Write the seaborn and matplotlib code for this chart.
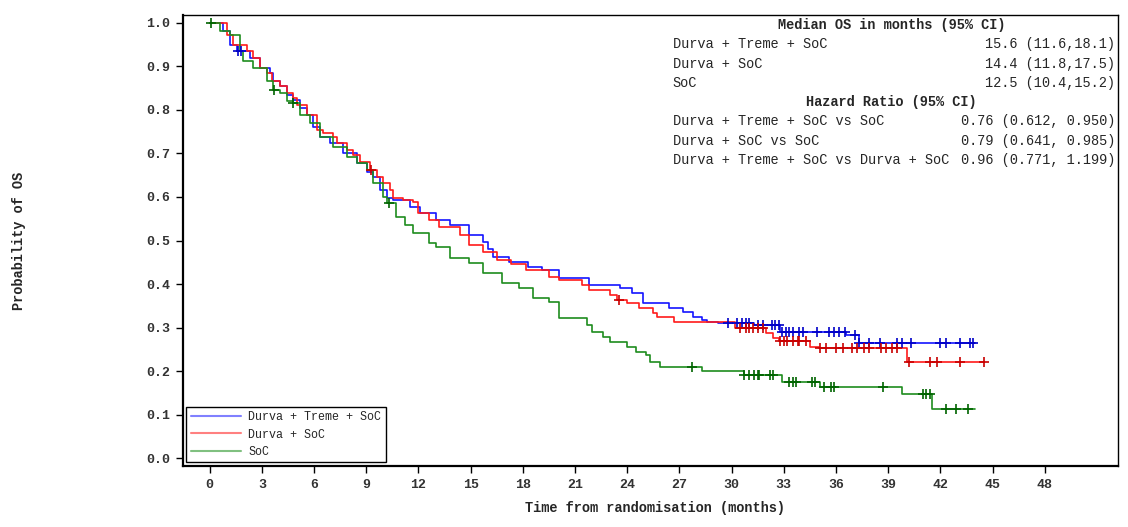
import numpy as np
import pandas as pd
import seaborn as sns
import matplotlib.pyplot as plt
from matplotlib.lines import Line2D

# KM step points (months, survival probability)
dts_time = [0, 0.75, 1.15, 1.55, 2.3, 2.87, 3.45, 3.62, 4.02, 4.43, 4.77, 5.17, 5.57, 5.92, 6.32,
            6.9, 7.64, 8.45, 9.02, 9.37, 9.77, 10.17, 10.52, 11.5, 12.1, 13.0, 13.8, 14.9, 15.7,
            16.0, 16.3, 17.2, 18.3, 19.1, 20.1, 21.8, 23.6, 24.3, 24.9, 26.4, 27.2, 27.8, 28.3,
            28.6, 29.2, 31.3, 32.8, 36.6, 37.3, 44.0]
dts_surv = [1.0, 0.982, 0.95, 0.936, 0.92, 0.897, 0.885, 0.867, 0.855, 0.834, 0.823, 0.805,
            0.789, 0.761, 0.738, 0.724, 0.701, 0.678, 0.657, 0.646, 0.616, 0.598, 0.593, 0.577,
            0.563, 0.548, 0.536, 0.513, 0.497, 0.48, 0.462, 0.45, 0.44, 0.432, 0.414, 0.398,
            0.391, 0.379, 0.356, 0.345, 0.336, 0.324, 0.317, 0.313, 0.31, 0.305, 0.29, 0.283,
            0.264, 0.264]
dts_cens = [1.6, 1.8, 29.8, 30.3, 30.6, 30.8, 31.0, 31.5, 31.8, 32.3, 32.5, 32.7, 32.9, 33.1, 33.3,
            33.5, 33.9, 34.1, 34.9, 35.6, 35.9, 36.2, 36.5, 37.1, 37.3, 37.9, 38.5, 39.5, 39.8,
            40.3, 42.0, 42.3, 43.1, 43.7, 43.9]

ds_time = [0, 0.98, 1.32, 2.13, 2.47, 2.87, 3.28, 3.56, 4.02, 4.43, 4.77, 5.0, 5.57, 6.15, 6.49,
           7.07, 7.3, 7.87, 8.22, 8.62, 9.2, 9.6, 9.94, 10.34, 10.52, 11.1, 11.7, 12.0, 12.6,
           13.2, 14.4, 14.9, 15.7, 16.5, 17.3, 18.2, 19.5, 20.1, 21.4, 21.8, 23.0, 23.4, 24.0,
           24.7, 25.5, 25.7, 26.7, 30.2, 32.0, 32.4, 32.7, 34.5, 35.0, 40.1, 44.5]
ds_surv = [1.0, 0.972, 0.95, 0.936, 0.92, 0.897, 0.885, 0.867, 0.855, 0.839, 0.828, 0.812,
           0.789, 0.754, 0.747, 0.738, 0.724, 0.708, 0.697, 0.68, 0.662, 0.646, 0.632, 0.616,
           0.598, 0.593, 0.589, 0.563, 0.547, 0.53, 0.513, 0.49, 0.474, 0.455, 0.445, 0.432,
           0.416, 0.409, 0.398, 0.386, 0.375, 0.363, 0.356, 0.345, 0.333, 0.324, 0.313, 0.30,
           0.287, 0.276, 0.27, 0.256, 0.253, 0.221, 0.221]
ds_cens = [9.3, 23.5, 30.5, 30.8, 31.0, 31.2, 31.5, 31.8, 32.8, 33.0, 33.2, 33.5, 33.8, 33.9,
           34.3, 35.1, 35.4, 36.0, 36.4, 36.9, 37.2, 37.6, 37.9, 38.6, 38.9, 39.2, 39.5, 40.2,
           41.4, 41.8, 43.1, 44.5]

soc_time = [0, 0.57, 1.15, 1.72, 1.9, 2.47, 3.28, 3.62, 4.02, 4.43, 4.77, 5.17, 5.75, 6.32, 7.07,
            7.87, 8.45, 9.02, 9.37, 9.94, 10.17, 10.7, 11.2, 11.7, 12.6, 13.0, 13.8, 14.9, 15.7,
            16.8, 17.8, 18.6, 19.5, 20.1, 21.7, 22.0, 22.6, 23.0, 24.0, 24.5, 25.1, 25.3, 25.9,
            28.3, 30.7, 32.9, 35.1, 39.8, 41.5, 44.0]
soc_surv = [1.0, 0.982, 0.972, 0.936, 0.913, 0.897, 0.867, 0.846, 0.839, 0.821, 0.816, 0.789,
            0.77, 0.738, 0.715, 0.692, 0.678, 0.662, 0.632, 0.6, 0.586, 0.554, 0.535, 0.517,
            0.494, 0.485, 0.46, 0.448, 0.425, 0.402, 0.39, 0.368, 0.359, 0.322, 0.306, 0.29,
            0.278, 0.267, 0.255, 0.244, 0.237, 0.221, 0.209, 0.2, 0.19, 0.175, 0.163, 0.147,
            0.113, 0.113]
soc_cens = [0.1, 3.7, 4.8, 10.3, 27.7, 30.7, 31.0, 31.3, 31.5, 31.6, 32.2, 32.4, 33.3, 33.5,
            33.7, 34.6, 34.8, 35.3, 35.7, 35.9, 38.7, 41.0, 41.2, 41.4, 42.3, 42.9, 43.6]

arms = ["Durva + Treme + SoC", "Durva + SoC", "SoC"]
line_colors = ["#1414ff", "#ff1a1a", "#1e8c1e"]
mark_colors = ["#0000c8", "#c80000", "#006400"]
legend_colors = ["#8080ff", "#ff8080", "#80c080"]

median_rows = [("Durva + Treme + SoC", "15.6 (11.6,18.1)"),
               ("Durva + SoC", "14.4 (11.8,17.5)"),
               ("SoC", "12.5 (10.4,15.2)")]
hr_rows = [("Durva + Treme + SoC vs SoC", "0.76 (0.612, 0.950)"),
           ("Durva + SoC vs SoC", "0.79 (0.641, 0.985)"),
           ("Durva + Treme + SoC vs Durva + SoC", "0.96 (0.771, 1.199)")]

sns.set_style("ticks")
plt.rcParams['font.family'] = ['Liberation Mono', 'DejaVu Sans Mono']

fig = plt.figure(figsize=(11.28, 5.27), dpi=100)
ax = fig.add_axes([0.162, 0.1157, 0.829, 0.8558])

curves = [(dts_time, dts_surv, dts_cens), (ds_time, ds_surv, ds_cens), (soc_time, soc_surv, soc_cens)]
for (t, s, c), name, lc, mc in zip(curves, arms, line_colors, mark_colors):
    df = pd.DataFrame({"time": t, "surv": s})
    sns.lineplot(data=df, x="time", y="surv", drawstyle="steps-post", color=lc,
                 lw=1.2, estimator=None, ax=ax, legend=False)
    # censor marks sit on the step curve
    idx = np.searchsorted(np.array(t), np.array(c), side="right") - 1
    cdf = pd.DataFrame({"time": c, "surv": np.array(s)[idx]})
    sns.scatterplot(data=cdf, x="time", y="surv", marker="+", s=45, color=mc,
                    linewidth=1.2, ax=ax, legend=False, zorder=3)

ax.set_xlim(-1.55, 52.2)
ax.set_ylim(-0.018, 1.018)
ax.set_xticks(np.arange(0, 49, 3))
ax.set_yticks(np.arange(0, 1.01, 0.1))
ax.set_yticklabels([f"{v:.1f}" for v in np.arange(0, 1.01, 0.1)])
ax.tick_params(axis="both", labelsize=9.5, length=5, width=1, colors="black", pad=4)
for lab in ax.get_xticklabels() + ax.get_yticklabels():
    lab.set_fontweight("bold")
    lab.set_color("#333333")

for side in ["top", "right"]:
    ax.spines[side].set_linewidth(1.0)
for side in ["left", "bottom"]:
    ax.spines[side].set_linewidth(1.6)
for sp in ax.spines.values():
    sp.set_color("black")

ax.set_xlabel("Time from randomisation (months)", fontsize=9.8, fontweight="bold")
ax.set_ylabel("Probability of OS", fontsize=9.8, fontweight="bold")
ax.xaxis.set_label_coords(0.505, -0.078)
ax.yaxis.set_label_coords(-0.168, 0.5)

handles = [Line2D([0], [0], color=c, lw=1.5) for c in legend_colors]
leg = ax.legend(handles, arms, loc="lower left", bbox_to_anchor=(0.004, 0.008),
                borderaxespad=0, fontsize=8.4, handlelength=4.3, handletextpad=0.6,
                labelspacing=0.45, fancybox=False, framealpha=1, borderpad=0.4)
leg.get_frame().set_edgecolor("black")
leg.get_frame().set_linewidth(1.0)

# median / hazard ratio table, top right
def ypos(px):
    return (466 - px) / 451

left_x, right_x, mid_x = 0.524, 0.997, 0.758
ax.text(mid_x, ypos(25), "Median OS in months (95% CI)", transform=ax.transAxes,
        ha="center", va="center", fontsize=9.8, fontweight="bold")
for (lab, val), py in zip(median_rows, [44, 64, 83]):
    ax.text(left_x, ypos(py), lab, transform=ax.transAxes, ha="left", va="center", fontsize=9.8)
    ax.text(right_x, ypos(py), val, transform=ax.transAxes, ha="right", va="center", fontsize=9.8)
ax.text(mid_x, ypos(102), "Hazard Ratio (95% CI)", transform=ax.transAxes,
        ha="center", va="center", fontsize=9.8, fontweight="bold")
for (lab, val), py in zip(hr_rows, [121, 141, 160]):
    ax.text(left_x, ypos(py), lab, transform=ax.transAxes, ha="left", va="center", fontsize=9.8)
    ax.text(right_x, ypos(py), val, transform=ax.transAxes, ha="right", va="center", fontsize=9.8)

fig.savefig("out.png", dpi=100)
